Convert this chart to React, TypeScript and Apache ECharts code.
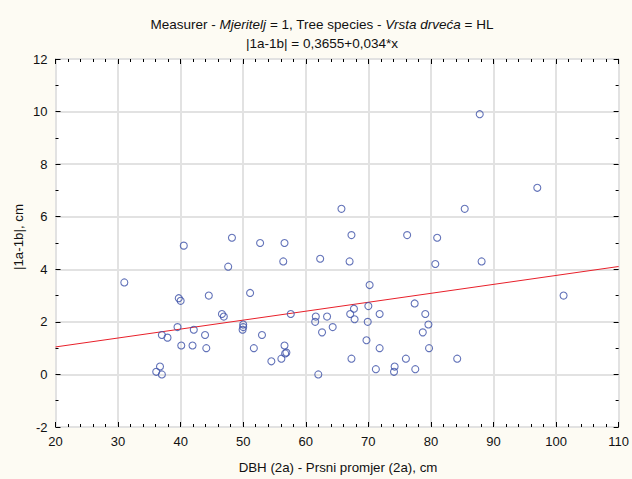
import React, { useEffect, useRef } from "react";
import * as echarts from "echarts";

const dbh = [
  31.0, 36.1, 36.7, 37.0, 37.0, 37.9, 39.5, 39.7, 40.0, 40.1,
  40.5, 41.9, 42.1, 43.9, 44.1, 44.5, 46.6, 46.9, 47.6, 48.2,
  50.0, 50.0, 49.9, 51.1, 51.7, 52.7, 53.0, 54.5, 56.1, 56.4,
  56.6, 56.6, 56.9, 56.7, 57.6, 61.6, 61.5, 62.0, 62.3, 62.6,
  63.4, 64.3, 65.7, 67.0, 67.1, 67.3, 67.3, 67.7, 67.8, 69.7,
  69.9, 70.0, 70.2, 71.2, 71.8, 71.8, 74.1, 74.2, 76.0, 76.2,
  77.4, 77.5, 78.7, 79.1, 79.6, 79.7, 80.7, 81.0, 84.2, 85.4,
  87.8, 88.1, 97.0, 101.2,
];
const absDiff = [
  3.5, 0.1, 0.3, 0.0, 1.5, 1.4, 1.8, 2.9, 2.8, 1.1,
  4.9, 1.1, 1.7, 1.5, 1.0, 3.0, 2.3, 2.2, 4.1, 5.2,
  1.9, 1.8, 1.7, 3.1, 1.0, 5.0, 1.5, 0.5, 0.6, 4.3,
  5.0, 1.1, 0.83, 0.8, 2.3, 2.2, 2.0, 0.0, 4.4, 1.6,
  2.2, 1.8, 6.3, 4.3, 2.3, 5.3, 0.6, 2.5, 2.1, 1.3,
  2.0, 2.6, 3.4, 0.2, 2.3, 1.0, 0.1, 0.3, 0.6, 5.3,
  2.7, 0.2, 1.6, 2.3, 1.9, 1.0, 4.2, 5.2, 0.6, 6.3,
  9.9, 4.3, 7.1, 3.0,
];
const intercept = 0.3655;
const slope = 0.034;
const xRange = [20, 110];
const yRange = [-2, 12];

const FONT = "Liberation Sans, Arial, sans-serif";

export default function App() {
  const ref = useRef<HTMLDivElement>(null);
  useEffect(() => {
    if (!ref.current) return;
    const chart = echarts.init(ref.current, undefined, { renderer: "svg" });
    const points = dbh.map((x, i) => [x, absDiff[i]]);
    const fit = xRange.map((x) => [x, intercept + slope * x]);
    const tickCommon = {
      axisLine: { show: false, onZero: false },
      axisTick: { show: true, inside: true, length: 5, lineStyle: { color: "#000", width: 1 } },
    };
    const grid = { left: 55.5, right: 10.5, top: 59, bottom: 52 };
    chart.setOption({
      animation: false,
      backgroundColor: "#fdfbf3",
      textStyle: { fontFamily: FONT },
      grid: { ...grid, show: true, backgroundColor: "#ffffff", borderColor: "#000", borderWidth: 1, z: 0 },
      xAxis: [
        {
          type: "value", min: xRange[0], max: xRange[1], interval: 10, position: "bottom",
          ...tickCommon,
          minorTick: { show: true, splitNumber: 5, length: 3, lineStyle: { color: "#000" } },
          axisLabel: { color: "#111", fontSize: 13, fontFamily: FONT, margin: 8 },
          splitLine: { show: true, lineStyle: { color: "#e2e2e2", width: 2 } },
        },
        {
          type: "value", min: xRange[0], max: xRange[1], interval: 10, position: "top",
          ...tickCommon,
          minorTick: { show: true, splitNumber: 5, length: 3, lineStyle: { color: "#000" } },
          axisLabel: { show: false },
          splitLine: { show: false },
        },
      ],
      yAxis: [
        {
          type: "value", min: yRange[0], max: yRange[1], interval: 2, position: "left",
          ...tickCommon,
          minorTick: { show: true, splitNumber: 2, length: 3, lineStyle: { color: "#000" } },
          axisLabel: { color: "#111", fontSize: 13, fontFamily: FONT, margin: 8 },
          splitLine: { show: true, lineStyle: { color: "#e2e2e2", width: 2 } },
        },
        {
          type: "value", min: yRange[0], max: yRange[1], interval: 2, position: "right",
          ...tickCommon,
          minorTick: { show: true, splitNumber: 2, length: 3, lineStyle: { color: "#000" } },
          axisLabel: { show: false },
          splitLine: { show: false },
        },
      ],
      series: [
        {
          type: "line",
          data: fit,
          symbol: "none",
          lineStyle: { color: "#e8202a", width: 1 },
          silent: true,
          z: 2,
        },
        {
          type: "scatter",
          data: points,
          symbol: "circle",
          symbolSize: 7,
          itemStyle: { color: "rgba(0,0,0,0)", borderColor: "#3c50a8", borderWidth: 1.1 },
          z: 3,
        },
      ],
      graphic: [
        {
          type: "text",
          x: 322,
          y: 24,
          style: {
            text: "{a|Measurer - }{b|Mjeritelj}{a| = 1, Tree species - }{b|Vrsta drveća}{a| = HL}",
            textAlign: "center",
            textVerticalAlign: "middle",
            rich: {
              a: { fontSize: 13.5, fontFamily: FONT, fill: "#111" },
              b: { fontSize: 13.5, fontFamily: FONT, fontStyle: "italic", fill: "#111" },
            },
          },
        },
        {
          type: "text",
          x: 322,
          y: 43,
          style: {
            text: "|1a-1b| = 0,3655+0,034*x",
            textAlign: "center",
            textVerticalAlign: "middle",
            font: "13.5px " + FONT,
            fill: "#111",
          },
        },
        {
          type: "text",
          x: 338,
          y: 467,
          style: {
            text: "DBH (2a) - Prsni promjer (2a), cm",
            textAlign: "center",
            textVerticalAlign: "middle",
            font: "13.3px " + FONT,
            fill: "#111",
          },
        },
        {
          type: "text",
          x: 18,
          y: 237,
          rotation: Math.PI / 2,
          style: {
            text: "|1a-1b|, cm",
            textAlign: "center",
            textVerticalAlign: "middle",
            font: "13.3px " + FONT,
            fill: "#111",
          },
        },
      ],
    });
    return () => chart.dispose();
  }, []);
  return (
    <div style={{ position: "fixed", left: 0, top: 0, width: 632, height: 479, background: "#fdfbf3" }}>
      <div ref={ref} style={{ width: 632, height: 479 }} />
    </div>
  );
}
